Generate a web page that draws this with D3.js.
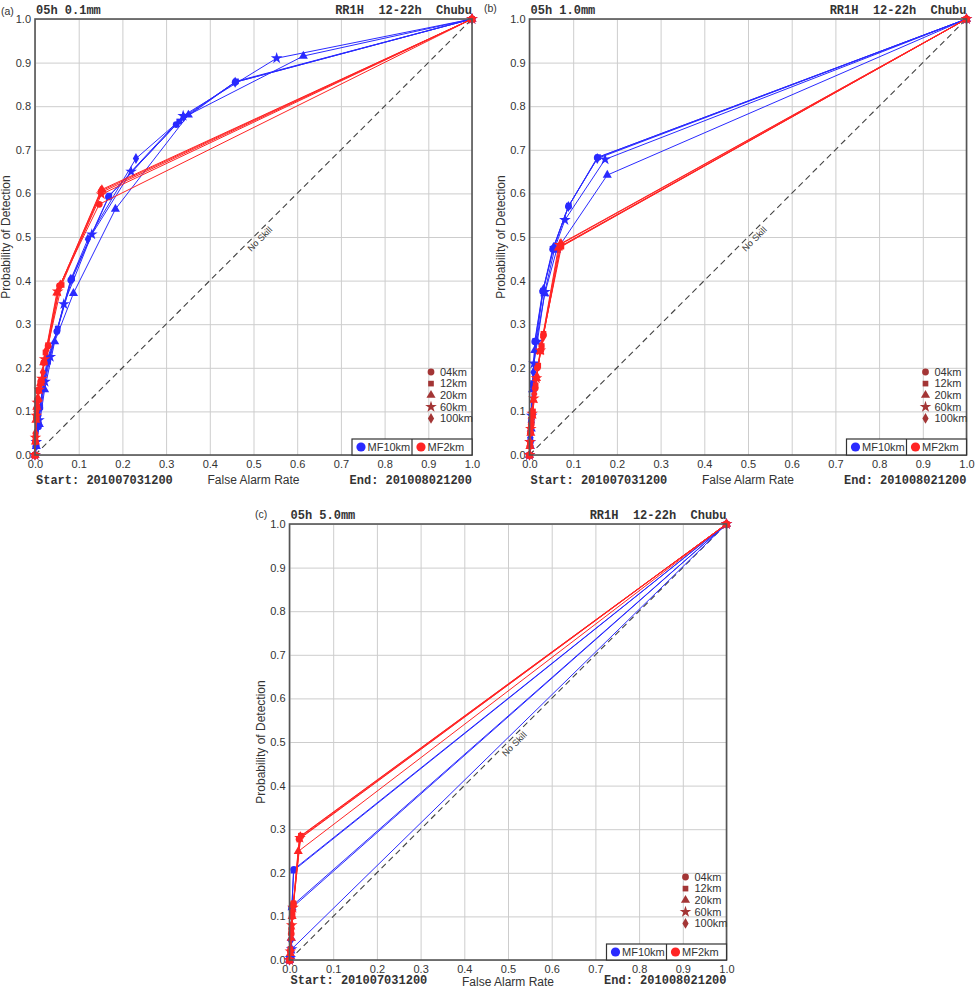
<!DOCTYPE html>
<html lang="en">
<head>
  <meta charset="UTF-8">
  <title>ROC curves - Chubu</title>
  <style>
    body { margin: 0; background: #fff; }
    svg { display: block; font-family: "Liberation Sans", Arial, sans-serif; }
    .grid line { stroke: #cdcdcd; stroke-width: 1; }
    .grid .domain { display: none; }
    .grid text { fill: #333; font-size: 11px; }
    .mono { font-family: "Liberation Mono", "DejaVu Sans Mono", monospace; font-weight: bold; font-size: 12px; fill: #333; }
    .lbl { font-size: 12px; fill: #333; }
  </style>
</head>
<body>
  <script src="https://d3js.org/d3.v7.min.js"></script>
  <script>
    const SVGWIDTH = 976;
    const SVGHEIGHT = 988;
    const plotW = 437;
    const plotH = 436;

    const panelIds = ['(a)', '(b)', '(c)'];
    const thresholds = ['0.1mm', '1.0mm', '5.0mm'];
    const leadTime = '05h';
    const headerRight = 'RR1H  12-22h  Chubu';
    const startDate = 'Start: 201007031200';
    const endDate = 'End: 201008021200';
    const scaleNames = ['04km', '12km', '20km', '60km', '100km'];
    const modelNames = ['MF10km', 'MF2km'];
    const tickValues = [0, 0.1, 0.2, 0.3, 0.4, 0.5, 0.6, 0.7, 0.8, 0.9, 1.0];

    // [FAR, POD] points for each spatial scale (04,12,20,60,100km)
    const rocA_MF10 = [
      [[0.002,0.02],[0.008,0.065],[0.011,0.108],[0.028,0.22],[0.050,0.283],[0.082,0.401],[0.168,0.592],[0.323,0.758],[0.458,0.855]],
      [[0.002,0.025],[0.008,0.075],[0.012,0.11],[0.030,0.214],[0.052,0.29],[0.085,0.405],[0.170,0.595],[0.330,0.765],[0.460,0.857]],
      [[0.003,0.02],[0.010,0.07],[0.022,0.15],[0.045,0.26],[0.088,0.371],[0.184,0.564],[0.351,0.780],[0.614,0.915]],
      [[0.003,0.03],[0.009,0.08],[0.023,0.168],[0.035,0.225],[0.066,0.346],[0.130,0.506],[0.220,0.650],[0.339,0.778],[0.553,0.910]],
      [[0.002,0.02],[0.008,0.09],[0.020,0.17],[0.030,0.215],[0.050,0.285],[0.082,0.403],[0.121,0.495],[0.231,0.680],[0.340,0.775],[0.458,0.855]]
    ];
    const rocA_MF2 = [
      [[0.001,0.03],[0.003,0.085],[0.004,0.107],[0.008,0.147],[0.013,0.168],[0.020,0.212],[0.030,0.25],[0.056,0.388],[0.147,0.575]],
      [[0.001,0.04],[0.003,0.09],[0.005,0.125],[0.009,0.15],[0.015,0.17],[0.024,0.235],[0.030,0.252],[0.061,0.390],[0.151,0.602]],
      [[0.001,0.03],[0.002,0.08],[0.004,0.11],[0.007,0.13],[0.013,0.165],[0.020,0.212],[0.050,0.372],[0.153,0.609]],
      [[0.001,0.04],[0.003,0.09],[0.005,0.12],[0.010,0.15],[0.016,0.175],[0.022,0.22],[0.052,0.375],[0.152,0.598]],
      [[0.001,0.05],[0.003,0.10],[0.006,0.13],[0.011,0.16],[0.018,0.19],[0.026,0.24],[0.058,0.39],[0.150,0.605]]
    ];
    const rocB_MF10 = [
      [[0.002,0.03],[0.004,0.075],[0.007,0.16],[0.012,0.26],[0.030,0.375],[0.053,0.472],[0.089,0.570],[0.155,0.682]],
      [[0.002,0.035],[0.004,0.08],[0.008,0.165],[0.013,0.262],[0.031,0.377],[0.055,0.474],[0.090,0.572],[0.157,0.683]],
      [[0.002,0.02],[0.004,0.06],[0.007,0.15],[0.012,0.24],[0.035,0.37],[0.062,0.470],[0.178,0.642]],
      [[0.002,0.03],[0.005,0.09],[0.010,0.21],[0.018,0.26],[0.035,0.374],[0.058,0.475],[0.081,0.539],[0.173,0.678]],
      [[0.002,0.04],[0.005,0.10],[0.009,0.19],[0.015,0.262],[0.032,0.38],[0.055,0.476],[0.089,0.57],[0.155,0.68]]
    ];
    const rocB_MF2 = [
      [[0.001,0.02],[0.002,0.05],[0.004,0.07],[0.007,0.092],[0.013,0.153],[0.018,0.20],[0.026,0.24],[0.032,0.275],[0.071,0.479]],
      [[0.001,0.025],[0.002,0.055],[0.005,0.08],[0.008,0.10],[0.014,0.16],[0.020,0.205],[0.028,0.25],[0.032,0.278],[0.073,0.478]],
      [[0.001,0.02],[0.003,0.05],[0.006,0.09],[0.009,0.126],[0.016,0.176],[0.024,0.237],[0.066,0.475]],
      [[0.001,0.03],[0.003,0.06],[0.006,0.095],[0.010,0.13],[0.016,0.176],[0.025,0.24],[0.069,0.482]],
      [[0.001,0.03],[0.003,0.065],[0.006,0.10],[0.011,0.14],[0.017,0.18],[0.027,0.25],[0.031,0.27],[0.072,0.485]]
    ];
    const rocC_MF10 = [
      [[0.003,0.02],[0.005,0.12],[0.010,0.208]],
      [[0.003,0.025],[0.006,0.125],[0.009,0.205]],
      [[0.002,0.01],[0.004,0.05],[0.006,0.12]],
      [[0.002,0.005],[0.005,0.025]],
      [[0.003,0.045],[0.007,0.125]]
    ];
    const rocC_MF2 = [
      [[0.002,0.02],[0.004,0.06],[0.006,0.10],[0.009,0.129],[0.022,0.277]],
      [[0.002,0.025],[0.004,0.07],[0.007,0.11],[0.009,0.13],[0.026,0.285]],
      [[0.002,0.015],[0.004,0.05],[0.006,0.10],[0.020,0.249]],
      [[0.002,0.02],[0.005,0.08],[0.008,0.12],[0.024,0.28]],
      [[0.002,0.02],[0.005,0.08],[0.009,0.125],[0.025,0.283]]
    ];

    const modelColors = ['#2a2aff', '#ff2424'];
    const legendColor = '#a33535';
    const symbolTypes = [d3.symbolCircle, d3.symbolSquare, d3.symbolTriangle, d3.symbolStar, d3.symbolDiamond];
    const symbolSizes = [36, 32, 36, 42, 34];

    const panels = [
      {left: 35, top: 19, footY: 29, monoFootY: 29, data: [rocA_MF10, rocA_MF2], labelX: 1, labelY: 15},
      {left: 529.5, top: 19, footY: 29, monoFootY: 29, data: [rocB_MF10, rocB_MF2], labelX: 484, labelY: 12},
      {left: 289.5, top: 524, footY: 26, monoFootY: 24, data: [rocC_MF10, rocC_MF2], labelX: 255, labelY: 518}
    ];

    const svg = d3.select('body').append('svg')
      .attr('width', SVGWIDTH)
      .attr('height', SVGHEIGHT)
      .attr('viewBox', `0 0 ${SVGWIDTH} ${SVGHEIGHT}`);

    panels.forEach((p, pi) => {
      const xScale = d3.scaleLinear().domain([0, 1]).range([0, plotW]);
      const yScale = d3.scaleLinear().domain([0, 1]).range([plotH, 0]);

      svg.append('text')
        .attr('x', p.labelX).attr('y', p.labelY)
        .style('font-size', '10.5px').style('fill', '#333')
        .text(panelIds[pi]);

      const g = svg.append('g').attr('transform', `translate(${p.left},${p.top})`);

      // grid + tick labels through the axes
      g.append('g').attr('class', 'grid')
        .attr('transform', `translate(0,${plotH})`)
        .call(d3.axisBottom(xScale).tickValues(tickValues).tickFormat(d3.format('.1f'))
          .tickSizeInner(-plotH).tickSizeOuter(0).tickPadding(5));
      g.append('g').attr('class', 'grid')
        .call(d3.axisLeft(yScale).tickValues(tickValues).tickFormat(d3.format('.1f'))
          .tickSizeInner(-plotW).tickSizeOuter(0).tickPadding(4));

      // no skill diagonal
      g.append('line')
        .attr('x1', xScale(0)).attr('y1', yScale(0))
        .attr('x2', xScale(1)).attr('y2', yScale(1))
        .attr('stroke', '#444').attr('stroke-width', 1.1)
        .attr('stroke-dasharray', '6,4');
      g.append('text')
        .attr('transform', `translate(${xScale(0.505)},${yScale(0.505)}) rotate(-45)`)
        .attr('y', 9)
        .attr('text-anchor', 'middle')
        .style('font-size', '9px').style('fill', '#333')
        .text('No Skill');

      // curves: blue first, red on top
      const line = d3.line().x(d => xScale(d[0])).y(d => yScale(d[1]));
      p.data.forEach((curves, mi) => {
        curves.forEach((pts, si) => {
          const full = [[0, 0]].concat(pts, [[1, 1]]);
          g.append('path')
            .datum(full)
            .attr('d', line)
            .attr('fill', 'none')
            .attr('stroke', modelColors[mi])
            .attr('stroke-width', 1);
          g.selectAll(null)
            .data(full)
            .enter()
            .append('path')
            .attr('transform', d => `translate(${xScale(d[0])},${yScale(d[1])})`)
            .attr('d', d3.symbol().type(symbolTypes[si]).size(symbolSizes[si]))
            .attr('fill', modelColors[mi]);
        });
      });

      // frame
      g.append('rect')
        .attr('width', plotW).attr('height', plotH)
        .attr('fill', 'none').attr('stroke', '#555').attr('stroke-width', 1.6);

      // scale legend
      const leg = g.append('g').attr('transform', `translate(396,${plotH - 83})`);
      scaleNames.forEach((name, i) => {
        leg.append('path')
          .attr('transform', `translate(0,${i * 11.6})`)
          .attr('d', d3.symbol().type(symbolTypes[i]).size(symbolSizes[i]))
          .attr('fill', legendColor);
        leg.append('text')
          .attr('x', 9).attr('y', i * 11.6).attr('dy', '0.35em')
          .style('font-size', '11px').style('fill', '#333')
          .text(name);
      });

      // model legend box
      const box = g.append('g').attr('transform', `translate(317,${plotH - 16})`);
      box.append('rect').attr('width', 120).attr('height', 16)
        .attr('fill', '#fff').attr('stroke', '#333').attr('stroke-width', 1.2);
      box.append('line').attr('x1', 60).attr('x2', 60).attr('y1', 0).attr('y2', 16)
        .attr('stroke', '#333').attr('stroke-width', 1.2);
      modelNames.forEach((name, i) => {
        const ox = i === 0 ? 9 : 69;
        box.append('circle').attr('cx', ox).attr('cy', 8).attr('r', 4.6).attr('fill', modelColors[i]);
        box.append('text').attr('x', ox + 6.5).attr('y', 8).attr('dy', '0.35em')
          .style('font-size', '11px').style('fill', '#333').text(name);
      });

      // header texts
      g.append('text').attr('class', 'mono').attr('x', 1).attr('y', -5)
        .text(`${leadTime} ${thresholds[pi]}`);
      g.append('text').attr('class', 'mono').attr('x', plotW).attr('y', -5)
        .attr('text-anchor', 'end').style('white-space', 'pre').attr('xml:space', 'preserve')
        .text(headerRight);

      // footer texts
      g.append('text').attr('class', 'mono').attr('x', 1).attr('y', plotH + p.monoFootY).text(startDate);
      g.append('text').attr('class', 'mono').attr('x', plotW).attr('y', plotH + p.monoFootY)
        .attr('text-anchor', 'end').text(endDate);
      g.append('text').attr('class', 'lbl').attr('x', plotW / 2).attr('y', plotH + p.footY)
        .attr('text-anchor', 'middle').text('False Alarm Rate');
      g.append('text').attr('class', 'lbl')
        .attr('transform', `translate(-25,${plotH / 2}) rotate(-90)`)
        .attr('text-anchor', 'middle').text('Probability of Detection');
    });
  </script>
</body>
</html>
